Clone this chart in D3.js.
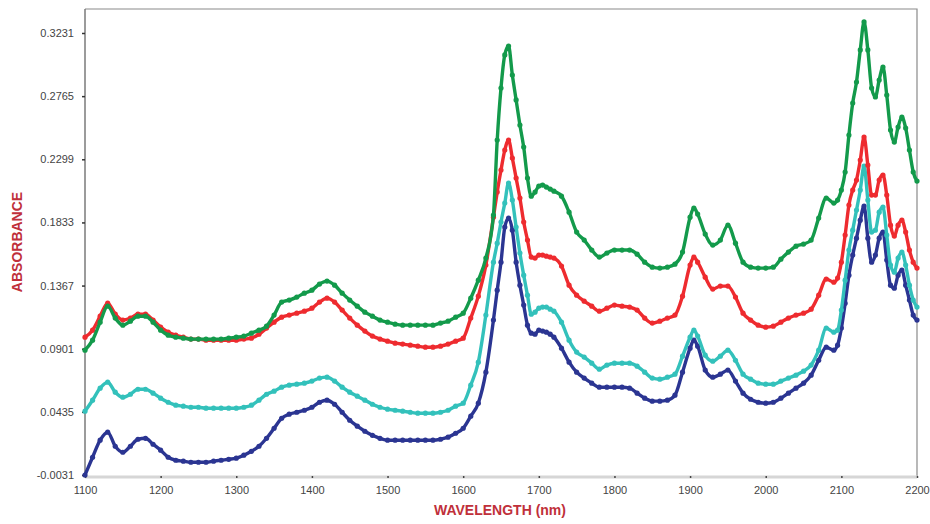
<!DOCTYPE html>
<html>
<head>
<meta charset="utf-8">
<script src="https://cdn.jsdelivr.net/npm/d3@7"></script>
<style>
  html, body { margin: 0; padding: 0; background: #fff; }
  svg { display: block; font-family: "Liberation Sans", Arial, sans-serif; }
  .tick-label { font-size: 11px; fill: #444; }
  .axis-title { font-size: 14px; font-weight: bold; fill: #c0303a; }
</style>
</head>
<body>
<svg id="chart" width="930" height="524"></svg>
<script>
// Wavelengths (nm) at which the spectra were read
const wavelengths = [
  1100,1110,1120,1130,1140,1150,1160,1170,1180,1190,
  1200,1210,1220,1230,1240,1250,1260,1270,1280,1290,
  1300,1310,1320,1330,1340,1350,1360,1370,1380,1390,
  1400,1410,1420,1430,1440,1450,1460,1470,1480,1490,
  1500,1510,1520,1530,1540,1550,1560,1570,1580,1590,
  1600,1610,1620,1630,1640,1645,1650,1655,1660,1665,
  1670,1675,1680,1685,1690,1695,1700,1705,1710,1715,
  1720,1730,1740,1750,1760,1770,1780,1790,1800,1810,
  1820,1830,1840,1850,1860,1870,1880,1890,1900,1905,
  1910,1920,1930,1940,1950,1960,1970,1980,1990,2000,
  2010,2020,2030,2040,2050,2060,2070,2080,2090,2095,
  2100,2105,2110,2115,2120,2125,2130,2135,2140,2145,
  2150,2155,2160,2165,2170,2175,2180,2185,2190,2195,
  2200
];

const greenSeries = [
  0.0890,0.0964,0.1097,0.1215,0.1127,0.1075,0.1104,0.1141,0.1141,0.1097,
  0.1038,0.1001,0.0986,0.0979,0.0972,0.0972,0.0972,0.0972,0.0972,0.0979,
  0.0986,0.0994,0.1016,0.1038,0.1067,0.1149,0.1245,0.1260,0.1282,0.1311,
  0.1333,0.1378,0.1400,0.1370,0.1311,0.1260,0.1215,0.1171,0.1141,0.1112,
  0.1097,0.1082,0.1075,0.1075,0.1075,0.1075,0.1075,0.1090,0.1104,0.1134,
  0.1163,0.1274,0.1407,0.1570,0.1887,0.2441,0.2825,0.3069,0.3135,0.2921,
  0.2737,0.2552,0.2389,0.2160,0.2027,0.2057,0.2101,0.2109,0.2094,0.2079,
  0.2064,0.2027,0.1909,0.1762,0.1703,0.1629,0.1577,0.1607,0.1629,0.1629,
  0.1629,0.1599,0.1540,0.1503,0.1496,0.1503,0.1525,0.1614,0.1872,0.1939,
  0.1895,0.1747,0.1666,0.1703,0.1813,0.1680,0.1540,0.1503,0.1496,0.1496,
  0.1503,0.1562,0.1614,0.1658,0.1673,0.1703,0.1865,0.2013,0.1976,0.1998,
  0.2072,0.2205,0.2478,0.2714,0.2869,0.3106,0.3313,0.3106,0.2825,0.2759,
  0.2884,0.2980,0.2773,0.2515,0.2426,0.2537,0.2611,0.2530,0.2367,0.2205,
  0.2138
];

const redSeries = [
  0.0986,0.1038,0.1141,0.1237,0.1156,0.1112,0.1127,0.1156,0.1156,0.1112,
  0.1060,0.1023,0.1001,0.0986,0.0972,0.0972,0.0964,0.0964,0.0964,0.0964,
  0.0964,0.0972,0.0979,0.1008,0.1053,0.1097,0.1134,0.1149,0.1163,0.1178,
  0.1200,0.1245,0.1274,0.1245,0.1186,0.1127,0.1075,0.1031,0.0994,0.0972,
  0.0957,0.0942,0.0935,0.0927,0.0920,0.0912,0.0912,0.0920,0.0935,0.0957,
  0.0979,0.1127,0.1289,0.1518,0.1872,0.2057,0.2220,0.2367,0.2441,0.2308,
  0.2160,0.2013,0.1836,0.1703,0.1577,0.1570,0.1592,0.1592,0.1584,0.1577,
  0.1570,0.1511,0.1370,0.1296,0.1252,0.1215,0.1178,0.1200,0.1223,0.1215,
  0.1208,0.1186,0.1127,0.1090,0.1104,0.1127,0.1149,0.1289,0.1518,0.1577,
  0.1540,0.1429,0.1341,0.1363,0.1363,0.1282,0.1163,0.1112,0.1075,0.1060,
  0.1067,0.1097,0.1127,0.1149,0.1163,0.1193,0.1296,0.1415,0.1392,0.1422,
  0.1540,0.1740,0.1961,0.2072,0.2146,0.2293,0.2463,0.2256,0.2035,0.2035,
  0.2146,0.2183,0.2035,0.1813,0.1732,0.1813,0.1850,0.1762,0.1629,0.1540,
  0.1496
];

const cyanSeries = [
  0.0440,0.0521,0.0610,0.0654,0.0580,0.0543,0.0565,0.0602,0.0602,0.0573,
  0.0536,0.0506,0.0484,0.0477,0.0469,0.0469,0.0462,0.0462,0.0462,0.0462,
  0.0462,0.0469,0.0484,0.0521,0.0565,0.0588,0.0617,0.0632,0.0639,0.0647,
  0.0662,0.0684,0.0691,0.0662,0.0617,0.0580,0.0551,0.0521,0.0491,0.0469,
  0.0455,0.0447,0.0440,0.0432,0.0425,0.0425,0.0425,0.0432,0.0447,0.0477,
  0.0499,0.0632,0.0802,0.1149,0.1540,0.1680,0.1836,0.1976,0.2124,0.1998,
  0.1799,0.1607,0.1444,0.1296,0.1156,0.1171,0.1200,0.1208,0.1208,0.1193,
  0.1178,0.1097,0.0964,0.0876,0.0839,0.0794,0.0750,0.0780,0.0794,0.0794,
  0.0794,0.0772,0.0728,0.0684,0.0676,0.0691,0.0713,0.0846,0.0986,0.1038,
  0.0994,0.0853,0.0809,0.0846,0.0890,0.0816,0.0713,0.0676,0.0647,0.0639,
  0.0639,0.0662,0.0684,0.0706,0.0735,0.0780,0.0890,0.1053,0.1023,0.1038,
  0.1186,0.1407,0.1629,0.1776,0.1924,0.2072,0.2249,0.1998,0.1762,0.1776,
  0.1909,0.1946,0.1740,0.1518,0.1466,0.1570,0.1614,0.1518,0.1370,0.1260,
  0.1208
];

const navySeries = [
  -0.0031,0.0100,0.0226,0.0285,0.0181,0.0137,0.0181,0.0233,0.0240,0.0196,
  0.0152,0.0100,0.0078,0.0071,0.0063,0.0063,0.0063,0.0071,0.0078,0.0085,
  0.0093,0.0115,0.0144,0.0181,0.0240,0.0314,0.0388,0.0418,0.0432,0.0447,
  0.0469,0.0506,0.0521,0.0491,0.0432,0.0373,0.0329,0.0292,0.0262,0.0240,
  0.0226,0.0226,0.0226,0.0226,0.0226,0.0226,0.0226,0.0233,0.0248,0.0277,
  0.0314,0.0403,0.0499,0.0728,0.1112,0.1333,0.1540,0.1799,0.1865,0.1776,
  0.1540,0.1370,0.1223,0.1075,0.1016,0.1008,0.1038,0.1031,0.1023,0.1008,
  0.0986,0.0905,0.0802,0.0728,0.0684,0.0647,0.0617,0.0617,0.0617,0.0617,
  0.0610,0.0573,0.0536,0.0514,0.0514,0.0521,0.0558,0.0728,0.0905,0.0964,
  0.0920,0.0743,0.0691,0.0713,0.0743,0.0662,0.0573,0.0528,0.0506,0.0499,
  0.0506,0.0536,0.0573,0.0610,0.0647,0.0706,0.0816,0.0912,0.0890,0.0927,
  0.1053,0.1237,0.1444,0.1592,0.1717,0.1850,0.1954,0.1717,0.1540,0.1592,
  0.1717,0.1762,0.1555,0.1370,0.1348,0.1444,0.1481,0.1370,0.1260,0.1149,
  0.1112
];

const yTicks = [-0.0031, 0.0435, 0.0901, 0.1367, 0.1833, 0.2299, 0.2765, 0.3231];
const xTicks = [1100, 1200, 1300, 1400, 1500, 1600, 1700, 1800, 1900, 2000, 2100, 2200];

const series = [
  { name: 'navy', color: '#2b3592', values: navySeries },
  { name: 'cyan', color: '#33c1bb', values: cyanSeries },
  { name: 'red', color: '#ee2b2f', values: redSeries },
  { name: 'green', color: '#139a4b', values: greenSeries }
];

(() => {
  const svg = d3.select('#chart');

  const left = 85, right = 917, top = 9, bottom = 477;

  const x = d3.scaleLinear().domain([1100, 2200]).range([left, right]);
  // -0.0031 sits at ~475px, 0.3231 at ~33px; frame extends a bit above the top tick
  const y = d3.scaleLinear().domain([-0.0031, 0.3231]).range([475, 33]);

  // Frame: top + right thin grey
  svg.append('path')
    .attr('d', `M${left},${top}H${right}V${bottom}`)
    .attr('fill', 'none')
    .attr('stroke', '#8a8a8a')
    .attr('stroke-width', 1.2);

  // Bottom axis as a light grey band
  svg.append('line')
    .attr('x1', left).attr('x2', right)
    .attr('y1', bottom).attr('y2', bottom)
    .attr('stroke', '#d6d6d6')
    .attr('stroke-width', 3);

  // Left axis (plain hyphen for the negative label, as in the original)
  const fmt = d3.format('.4f');
  const yAxis = d3.axisLeft(y)
    .tickValues(yTicks)
    .tickSize(3)
    .tickPadding(8)
    .tickFormat(d => fmt(d).replace('\u2212', '-'));

  const gy = svg.append('g')
    .attr('transform', `translate(${left},0)`)
    .call(yAxis);
  gy.select('.domain')
    .attr('d', `M0,${top}V${bottom}`)
    .attr('stroke', '#7a7a7a')
    .attr('stroke-width', 1.5);
  gy.selectAll('.tick line').attr('stroke', '#333').attr('stroke-width', 1.5);
  gy.selectAll('.tick text')
    .attr('class', 'tick-label')
    .attr('font-size', null)
    .attr('font-family', null);

  // Bottom axis ticks / labels
  const xAxis = d3.axisBottom(x)
    .tickValues(xTicks)
    .tickSize(2)
    .tickPadding(8)
    .tickFormat(d3.format('d'));

  const gx = svg.append('g')
    .attr('transform', `translate(0,${bottom - 1})`)
    .call(xAxis);
  gx.select('.domain').remove();
  gx.selectAll('.tick line').attr('stroke', '#444').attr('stroke-width', 1.5);
  gx.selectAll('.tick text')
    .attr('class', 'tick-label')
    .attr('font-size', null)
    .attr('font-family', null);

  // Spectra
  const line = d3.line()
    .x((d, i) => x(wavelengths[i]))
    .y(d => y(d))
    .curve(d3.curveMonotoneX);

  const plot = svg.append('g');

  series.forEach(s => {
    const g = plot.append('g').attr('class', 'series-' + s.name);
    g.append('path')
      .datum(s.values)
      .attr('fill', 'none')
      .attr('stroke', s.color)
      .attr('stroke-width', 3.4)
      .attr('stroke-linejoin', 'round')
      .attr('d', line);
    g.selectAll('circle')
      .data(s.values)
      .join('circle')
      .attr('cx', (d, i) => x(wavelengths[i]))
      .attr('cy', d => y(d))
      .attr('r', 2.6)
      .attr('fill', s.color);
  });

  // Axis titles
  svg.append('text')
    .attr('class', 'axis-title')
    .attr('text-anchor', 'middle')
    .attr('transform', 'translate(22,242) rotate(-90)')
    .text('ABSORBANCE');

  svg.append('text')
    .attr('class', 'axis-title')
    .attr('text-anchor', 'middle')
    .attr('x', 500)
    .attr('y', 515)
    .text('WAVELENGTH (nm)');
})();
</script>
</body>
</html>
